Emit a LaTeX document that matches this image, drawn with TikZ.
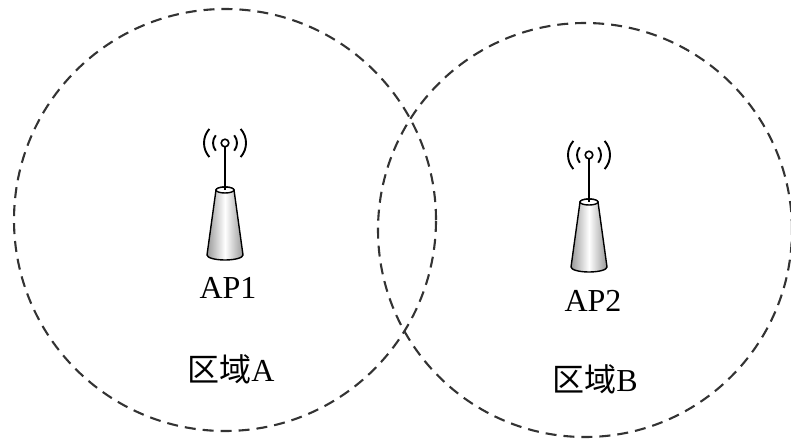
\documentclass[tikz,border=0pt]{standalone}
\usepackage{fontspec}
\setmainfont{Liberation Serif}
\newfontfamily\cjk{Noto Sans CJK SC}
\usepackage{tikz}

\begin{document}
\begin{tikzpicture}[x=1pt,y=-1pt,
	zone/.style={draw=black!80,line width=2.1pt,dash pattern=on 11pt off 7pt},
	lbl/.style={font=\fontsize{32}{36}\selectfont,inner sep=0pt},
	ap/.pic={
		\draw[line width=1.6pt] (0,0) circle (3.8pt);
		\draw[line width=1.9pt] (0,0) ++(140:12pt) arc[start angle=140,end angle=220,radius=12pt];
		\draw[line width=1.9pt] (0,0) ++(40:12pt) arc[start angle=40,end angle=-40,radius=12pt];
		\draw[line width=1.9pt] (0,0) ++(138:21pt) arc[start angle=138,end angle=222,radius=21pt];
		\draw[line width=1.9pt] (0,0) ++(42:21pt) arc[start angle=42,end angle=-42,radius=21pt];
		\draw[line width=1.6pt] (0,3.8) -- (0,47);
		\shade[left color=black!40,right color=black!40,middle color=white,draw,line width=1.4pt]
			(-9,47) -- (-18,112) arc[start angle=180,end angle=360,x radius=18pt,y radius=5pt]
			-- (9,47) arc[start angle=0,end angle=180,x radius=9pt,y radius=3pt] -- cycle;
		\draw[fill=white,line width=1.4pt] (0,47) ellipse[x radius=9pt,y radius=3pt];
		\draw[line width=1.6pt] (0,40) -- (0,47);
	}]

	\useasboundingbox (0,0) rectangle (791,441);

	\coordinate (ca) at (225,220);
	\coordinate (cb) at (585,230);
	\draw[zone] (ca) circle (211pt);
	\draw[zone] (cb) circle (207pt);

	\pic at (225,143) {ap};
	\pic at (589,155) {ap};

	\node[lbl] (ap1) at (228,288) {AP1};
	\node[lbl] (ap2) at (593,301) {AP2};
	\node[lbl] (za) at (231,369) {{\cjk 区域}A};
	\node[lbl] (zb) at (595,379) {{\cjk 区域}B};

\end{tikzpicture}
\end{document}
